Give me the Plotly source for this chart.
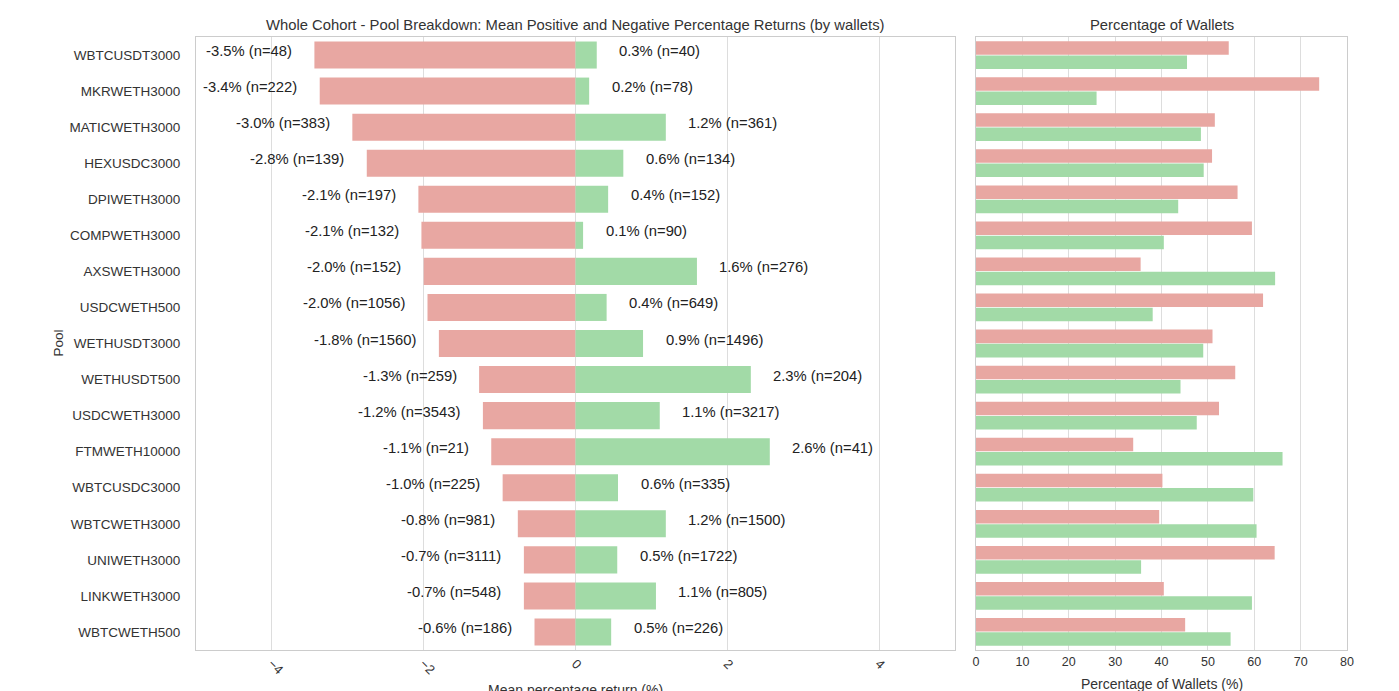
import plotly.graph_objects as go

pools = ["WBTCUSDT3000", "MKRWETH3000", "MATICWETH3000", "HEXUSDC3000", "DPIWETH3000",
         "COMPWETH3000", "AXSWETH3000", "USDCWETH500", "WETHUSDT3000", "WETHUSDT500",
         "USDCWETH3000", "FTMWETH10000", "WBTCUSDC3000", "WBTCWETH3000", "UNIWETH3000",
         "LINKWETH3000", "WBTCWETH500"]

neg_mean = [-3.44, -3.37, -2.94, -2.75, -2.07, -2.03, -2.00, -1.95, -1.80, -1.27,
            -1.22, -1.11, -0.96, -0.76, -0.68, -0.68, -0.54]
pos_mean = [0.28, 0.18, 1.19, 0.63, 0.43, 0.10, 1.60, 0.41, 0.89, 2.31,
            1.11, 2.56, 0.56, 1.19, 0.55, 1.06, 0.47]

neg_labels = ["-3.5% (n=48)", "-3.4% (n=222)", "-3.0% (n=383)", "-2.8% (n=139)", "-2.1% (n=197)",
              "-2.1% (n=132)", "-2.0% (n=152)", "-2.0% (n=1056)", "-1.8% (n=1560)", "-1.3% (n=259)",
              "-1.2% (n=3543)", "-1.1% (n=21)", "-1.0% (n=225)", "-0.8% (n=981)", "-0.7% (n=3111)",
              "-0.7% (n=548)", "-0.6% (n=186)"]
pos_labels = ["0.3% (n=40)", "0.2% (n=78)", "1.2% (n=361)", "0.6% (n=134)", "0.4% (n=152)",
              "0.1% (n=90)", "1.6% (n=276)", "0.4% (n=649)", "0.9% (n=1496)", "2.3% (n=204)",
              "1.1% (n=3217)", "2.6% (n=41)", "0.6% (n=335)", "1.2% (n=1500)", "0.5% (n=1722)",
              "1.1% (n=805)", "0.5% (n=226)"]

neg_pct = [54.5, 74.0, 51.5, 50.9, 56.4, 59.5, 35.5, 61.9, 51.0, 55.9,
           52.4, 33.9, 40.2, 39.5, 64.4, 40.5, 45.1]
pos_pct = [45.5, 26.0, 48.5, 49.1, 43.6, 40.5, 64.5, 38.1, 49.0, 44.1,
           47.6, 66.1, 59.8, 60.5, 35.6, 59.5, 54.9]

left_ticks = [-4, -2, 0, 2, 4]
left_ticktext = ["−4", "−2", "0", "2", "4"]
right_ticks = [0, 10, 20, 30, 40, 50, 60, 70, 80]

RED = "#E8A7A2"
GREEN = "#A2DAA7"
FONT = "Liberation Sans, Arial, sans-serif"

# page offset (default body margin) compensation
W, H = 1391, 683
ML, MR, MT, MB = 188, 52, 29, 41
PW = W - ML - MR


def px_to_paper(xpix):
    return (xpix - 8 - ML) / PW


fig = go.Figure()

fig.add_trace(go.Bar(y=pools, x=neg_mean, orientation="h", marker_color=RED,
                     marker_line_width=0, width=0.75, xaxis="x", yaxis="y", showlegend=False))
fig.add_trace(go.Bar(y=pools, x=pos_mean, orientation="h", marker_color=GREEN,
                     marker_line_width=0, width=0.75, xaxis="x", yaxis="y", showlegend=False))

fig.add_trace(go.Bar(y=pools, x=neg_pct, orientation="h", marker_color=RED,
                     marker_line_width=0, width=0.375, offset=-0.385,
                     xaxis="x2", yaxis="y2", showlegend=False))
fig.add_trace(go.Bar(y=pools, x=pos_pct, orientation="h", marker_color=GREEN,
                     marker_line_width=0, width=0.375, offset=0.01,
                     xaxis="x2", yaxis="y2", showlegend=False))

annotations = []
for p, v, t in zip(pools, neg_mean, neg_labels):
    annotations.append(dict(x=v - 0.27, y=p, xref="x", yref="y", text=t, showarrow=False,
                            xanchor="right", yanchor="middle", yshift=4,
                            font=dict(size=14.8, color="#222", family=FONT)))
for p, v, t in zip(pools, pos_mean, pos_labels):
    annotations.append(dict(x=v + 0.27, y=p, xref="x", yref="y", text=t, showarrow=False,
                            xanchor="left", yanchor="middle", yshift=4,
                            font=dict(size=14.8, color="#222", family=FONT)))

left_center = px_to_paper(575.5)
right_center = px_to_paper(1161.5)

annotations += [
    dict(text="Whole Cohort - Pool Breakdown: Mean Positive and Negative Percentage Returns (by wallets)",
         x=left_center, y=1, xref="paper", yref="paper", xanchor="center", yanchor="bottom", yshift=2,
         showarrow=False, font=dict(size=14.8, color="#333", family=FONT)),
    dict(text="Percentage of Wallets", x=right_center, y=1, xref="paper", yref="paper",
         xanchor="center", yanchor="bottom", yshift=2, showarrow=False,
         font=dict(size=14.8, color="#333", family=FONT)),
    dict(text="Pool", x=px_to_paper(58), y=0.5, xref="paper", yref="paper", textangle=-90,
         xanchor="center", showarrow=False,
         font=dict(size=13.5, color="#333", family=FONT)),
    dict(text="Mean percentage return (%)", x=left_center, y=0, xref="paper", yref="paper",
         xanchor="center", yanchor="top", yshift=-30, showarrow=False,
         font=dict(size=14, color="#333", family=FONT)),
    dict(text="Percentage of Wallets (%)", x=right_center, y=0, xref="paper", yref="paper",
         xanchor="center", yanchor="top", yshift=-24, showarrow=False,
         font=dict(size=14, color="#333", family=FONT)),
]

fig.update_layout(
    width=W, height=H,
    margin=dict(l=ML, r=MR, t=MT, b=MB),
    paper_bgcolor="white", plot_bgcolor="white",
    font=dict(family=FONT, size=13, color="#333"),
    barmode="overlay",
    annotations=annotations,
    xaxis=dict(domain=[0, px_to_paper(955)], range=[-5, 5], tickvals=left_ticks, ticktext=left_ticktext,
               tickangle=45, showgrid=True, gridcolor="#DDDDDD", gridwidth=1, zeroline=False,
               showline=True, linecolor="#CCCCCC", mirror=True, ticks="", anchor="y",
               tickfont=dict(size=13, color="#333")),
    yaxis=dict(domain=[0, 1], autorange="reversed", showgrid=False, zeroline=False,
               showline=True, linecolor="#CCCCCC", mirror=True, anchor="x",
               ticklabelstandoff=12, tickfont=dict(size=13.5, color="#333")),
    xaxis2=dict(domain=[px_to_paper(976), 1], range=[0, 80], tickvals=right_ticks,
                showgrid=True, gridcolor="#DDDDDD", gridwidth=1, zeroline=False,
                showline=True, linecolor="#CCCCCC", mirror=True, anchor="y2",
                tickfont=dict(size=12.5, color="#333")),
    yaxis2=dict(domain=[0, 1], autorange="reversed", showgrid=False, zeroline=False,
                showline=True, linecolor="#CCCCCC", mirror=True, anchor="x2",
                showticklabels=False, matches="y"),
)

fig.write_html("out.html")
